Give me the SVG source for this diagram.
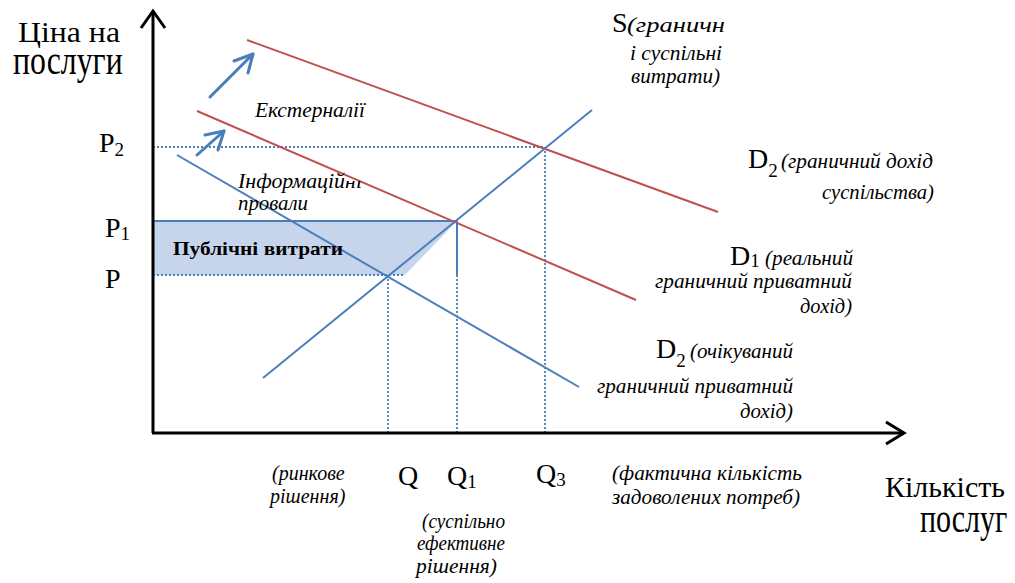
<svg xmlns="http://www.w3.org/2000/svg" width="1015" height="583" viewBox="0 0 1015 583">
<style>
.red{stroke:#c0504d;stroke-width:2;fill:none}
.blue{stroke:#4a7ebb;stroke-width:2;fill:none}
.dot{stroke:#4a7ebb;stroke-width:1.8;stroke-dasharray:2 2;fill:none}
.axis{stroke:#000;stroke-width:3;fill:none}
.arr{stroke:#4a7ebb;stroke-width:3;fill:none;stroke-linecap:round;stroke-linejoin:round}
</style>
<defs>
<clipPath id="clipInfo"><polygon points="230,160 345,160 345,181 370,181 370,200 230,200"/></clipPath>
</defs>
<rect width="1015" height="583" fill="#fff"/>
<g id="shaded">
<polygon points="153,221 457,221 405,275 153,275" fill="#c6d5ec"/>
</g>
<g id="connectors">
<line class="dot" x1="153" y1="147" x2="545" y2="147"/>
<line class="dot" x1="545" y1="147" x2="545" y2="433"/>
<line class="blue" x1="153" y1="221" x2="457" y2="221" stroke-width="1.5"/>
<line class="blue" x1="457" y1="221" x2="457" y2="275"/>
<line class="dot" x1="457" y1="275" x2="457" y2="433"/>
<line class="dot" x1="153" y1="275" x2="405" y2="275"/>
<line class="dot" x1="388" y1="275" x2="388" y2="433"/>
<line class="red" x1="247" y1="40" x2="718" y2="212"/>
<line class="red" x1="197" y1="111" x2="636" y2="300"/>
<line class="blue" x1="177" y1="155" x2="579" y2="387"/>
<line class="blue" x1="263" y1="378" x2="592" y2="110"/>
<line class="arr" x1="210" y1="97" x2="253" y2="54"/>
<polyline class="arr" points="234,61 253,54 248,73"/>
<line class="arr" x1="197" y1="155" x2="224" y2="131"/>
<polyline class="arr" points="205,135 224,131 218,150"/>
<line class="axis" x1="153" y1="433" x2="153" y2="11"/>
<polyline class="axis" points="141,28 153,11 165,28" stroke-width="2.5"/>
<line class="axis" x1="152" y1="433" x2="904" y2="433"/>
<polyline class="axis" points="886,422 904,433 886,444" stroke-width="2.5"/>
</g>
<g id="labels" font-family="'Liberation Serif', serif" fill="#000">
<g id="axis-y-label">
<text font-family="'Liberation Serif'" font-size="30" x="18" y="42" textLength="102" lengthAdjust="spacingAndGlyphs">Ціна на</text>
<text font-family="'Liberation Serif'" font-size="30" transform="translate(13,74) scale(1.06,1.4)">послуги</text>
</g>
<g id="axis-x-label">
<text font-family="'Liberation Serif', serif" font-size="30" x="885" y="497">Кількість</text>
<text font-size="30" transform="translate(920,532) scale(1,1.4)">послуг</text>
</g>
<g id="price-labels" font-size="28">
<text x="99" y="152">P<tspan font-size="19" dy="4">2</tspan></text>
<text x="105" y="237">P<tspan font-size="19" dy="3">1</tspan></text>
<text x="105" y="288">P</text>
</g>
<g id="quantity-labels">
<text font-size="28" x="398" y="485">Q</text>
<text font-size="28" x="447" y="485">Q<tspan font-size="19" dy="3">1</tspan></text>
<text font-size="28" x="536" y="483">Q<tspan font-size="19" dy="3">3</tspan></text>
<text font-size="20" font-style="italic" x="272" y="480">(ринкове</text>
<text font-family="'Liberation Serif'" font-size="20" font-style="italic" x="270" y="503">рішення)</text>
<text font-family="'Liberation Serif'" font-size="20" font-style="italic" x="422" y="528" textLength="83" lengthAdjust="spacingAndGlyphs">(суспільно</text>
<text font-family="'Liberation Serif'" font-size="20" font-style="italic" x="417" y="550" textLength="88" lengthAdjust="spacingAndGlyphs">ефективне</text>
<text font-family="'Liberation Serif'" font-size="20" font-style="italic" x="416" y="573" textLength="81" lengthAdjust="spacingAndGlyphs">рішення)</text>
<text font-family="'Liberation Serif'" font-size="20" font-style="italic" x="612" y="480" textLength="190" lengthAdjust="spacingAndGlyphs">(фактична кількість</text>
<text font-family="'Liberation Serif'" font-size="20" font-style="italic" x="612" y="504" textLength="188" lengthAdjust="spacingAndGlyphs">задоволених потреб)</text>
</g>
<g id="label-s">
<text font-size="28" x="612" y="32">S</text>
<text font-family="'Liberation Serif'" font-size="20" font-style="italic" x="627" y="32" textLength="98" lengthAdjust="spacingAndGlyphs">(граничн</text>
<text font-family="'Liberation Serif'" font-size="20" font-style="italic" x="630" y="60" textLength="92" lengthAdjust="spacingAndGlyphs">і суспільні</text>
<text font-family="'Liberation Serif'" font-size="20" font-style="italic" x="631" y="83" textLength="89" lengthAdjust="spacingAndGlyphs">витрати)</text>
</g>
<g id="label-d2-social">
<text font-size="28" x="748" y="168">D<tspan font-size="19" dy="9">2</tspan></text>
<text font-family="'Liberation Serif'" font-size="20" font-style="italic" x="781" y="168" textLength="152" lengthAdjust="spacingAndGlyphs">(граничний дохід</text>
<text font-family="'Liberation Serif'" font-size="20" font-style="italic" x="822" y="199" textLength="112" lengthAdjust="spacingAndGlyphs">суспільства)</text>
</g>
<g id="label-d1">
<text font-size="28" x="730" y="265">D<tspan font-size="19" dy="2">1</tspan></text>
<text font-family="'Liberation Serif'" font-size="20" font-style="italic" x="765" y="265" textLength="88" lengthAdjust="spacingAndGlyphs">(реальний</text>
<text font-family="'Liberation Serif'" font-size="20" font-style="italic" x="655" y="288" textLength="197" lengthAdjust="spacingAndGlyphs">граничний приватний</text>
<text font-family="'Liberation Serif'" font-size="20" font-style="italic" x="800" y="313" textLength="52" lengthAdjust="spacingAndGlyphs">дохід)</text>
</g>
<g id="label-d2-expected">
<text font-size="28" x="656" y="358">D<tspan font-size="19" dy="9">2</tspan></text>
<text font-family="'Liberation Serif'" font-size="20" font-style="italic" x="690" y="358" textLength="103" lengthAdjust="spacingAndGlyphs">(очікуваний</text>
<text font-family="'Liberation Serif'" font-size="20" font-style="italic" x="597" y="393" textLength="196" lengthAdjust="spacingAndGlyphs">граничний приватний</text>
<text font-family="'Liberation Serif'" font-size="20" font-style="italic" x="740" y="418" textLength="53" lengthAdjust="spacingAndGlyphs">дохід)</text>
</g>
<g id="label-external">
<text font-family="'Liberation Serif'" font-size="20" font-style="italic" x="255" y="117" textLength="110" lengthAdjust="spacingAndGlyphs">Екстерналії</text>
</g>
<g id="label-info">
<text font-family="'Liberation Serif'" font-size="20" font-style="italic" x="238" y="188" clip-path="url(#clipInfo)" textLength="124" lengthAdjust="spacingAndGlyphs">Інформаційні</text>
<text font-family="'Liberation Serif'" font-size="20" font-style="italic" x="238" y="210" textLength="70" lengthAdjust="spacingAndGlyphs">провали</text>
</g>
<g id="label-public">
<text font-family="'Liberation Serif'" x="173" y="255" font-size="19" font-weight="bold" textLength="170" lengthAdjust="spacingAndGlyphs">Публічні витрати</text>
</g>
</g>
</svg>
